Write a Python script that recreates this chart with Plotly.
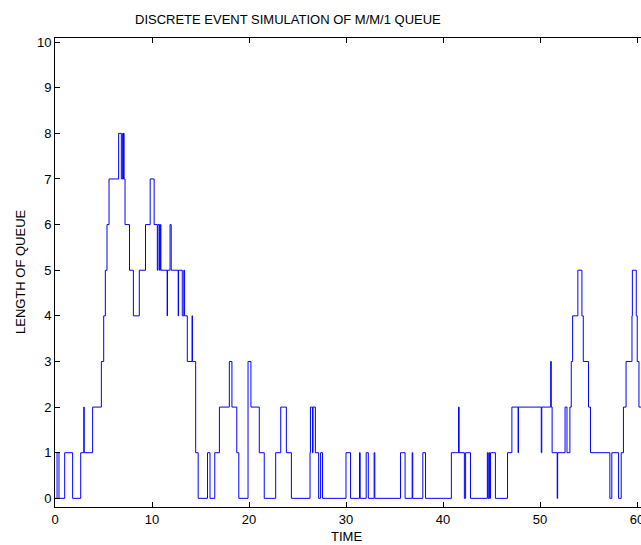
import plotly.graph_objects as go

# Event times (TIME) and queue length after each event
event_times = [
    0, 0.21, 0.41, 1.0, 1.82, 2.65, 2.97, 3.01, 3.88, 4.78, 5.02, 5.19, 5.36, 5.57,
    6.56, 6.84, 6.98, 7.03, 7.07, 7.12, 7.22, 7.68, 8.08, 8.69, 9.33, 9.81, 10.22,
    10.55, 10.62, 10.78, 10.86, 10.92, 11.56, 11.60, 11.86, 11.98, 12.70, 12.74,
    13.12, 13.28, 13.36, 13.64, 14.13, 14.17, 14.50, 14.76, 15.72, 15.98, 16.47,
    16.95, 17.97, 18.24, 18.74, 18.95, 19.90, 20.20, 21.06, 21.57, 22.75, 23.27,
    23.85, 24.37, 26.29, 26.33, 26.55, 26.60, 26.84, 27.18, 27.38, 27.58, 30.00,
    30.47, 31.39, 31.46, 32.08, 32.30, 32.90, 32.97, 35.62, 36.09, 36.82, 36.88,
    37.92, 38.20, 40.86, 41.60, 41.66, 42.20, 42.33, 42.83, 44.57, 44.64, 44.73,
    44.80, 44.90, 45.40, 46.65, 47.10, 47.74, 47.78, 50.13, 50.18, 51.10, 51.16,
    51.25, 51.77, 51.82, 52.58, 52.78, 53.08, 53.22, 53.36, 53.90, 54.32, 54.46,
    55.00, 55.20, 57.20, 57.40, 58.10, 58.37, 58.60, 58.87, 59.48, 59.52, 59.92,
    60.02, 60.20, 60.60,
]
queue_length = [
    0, 1, 0, 1, 0, 1, 2, 1, 2, 3, 4, 5, 6, 7,
    8, 7, 8, 7, 8, 7, 6, 5, 4, 5, 6, 7, 6,
    5, 6, 5, 6, 5, 4, 5, 6, 5, 4, 5,
    4, 5, 4, 3, 4, 3, 1, 0, 1, 0, 1,
    2, 3, 2, 1, 0, 3, 2, 1, 0, 1, 2,
    1, 0, 1, 2, 1, 2, 1, 0, 1, 0, 1,
    0, 1, 0, 1, 0, 1, 0, 1, 0, 1, 0,
    1, 0, 1, 2, 1, 0, 1, 0, 1, 0, 1,
    0, 1, 0, 1, 2, 1, 2, 1, 2, 3, 2,
    1, 0, 1, 2, 1, 2, 3, 4, 5, 4, 3,
    2, 1, 0, 1, 0, 1, 2, 3, 4, 5, 4,
    3, 2, 2,
]

x_ticks = [0, 10, 20, 30, 40, 50, 60]
y_ticks = [0, 1, 2, 3, 4, 5, 6, 7, 8, 9, 10]

FONT = "Liberation Sans, Arial, Helvetica, sans-serif"

fig = go.Figure()
fig.add_trace(go.Scatter(
    x=event_times, y=queue_length, mode="lines",
    line=dict(color="#0000ff", width=1, shape="hv"),
    showlegend=False, hoverinfo="skip",
))

W, H = 641, 545
ml, mr, mt, mb = 55, 0, 38, 38
fig.update_layout(
    width=W, height=H,
    margin=dict(l=ml, r=mr, t=mt, b=mb, pad=0),
    paper_bgcolor="white", plot_bgcolor="white",
    font=dict(family=FONT, size=13, color="black"),
    showlegend=False,
)
fig.update_xaxes(
    range=[0, 60.41], tickvals=x_ticks, ticktext=[str(v) for v in x_ticks],
    ticks="inside", ticklen=5, tickcolor="black", tickwidth=1,
    showline=True, linecolor="black", linewidth=1, mirror="ticks",
    showgrid=False, zeroline=False, automargin=False,
    tickfont=dict(size=13), ticklabeloverflow="allow",
)
fig.update_yaxes(
    range=[-0.19, 10.09], tickvals=y_ticks, ticktext=[str(v) for v in y_ticks],
    ticks="inside", ticklen=5, tickcolor="black", tickwidth=1,
    showline=True, linecolor="black", linewidth=1, mirror=False,
    showgrid=False, zeroline=False, automargin=False,
    tickfont=dict(size=13), ticklabeloverflow="allow",
)

pw = W - ml - mr
ph = H - mt - mb
def px_to_paper_x(px):
    return (px - ml) / pw
def py_to_paper_y(py):
    return (H - mb - py) / ph

fig.add_annotation(text="DISCRETE EVENT SIMULATION OF M/M/1 QUEUE",
                   xref="paper", yref="paper", x=px_to_paper_x(288), y=py_to_paper_y(20),
                   xanchor="center", yanchor="middle", showarrow=False,
                   font=dict(size=13))
fig.add_annotation(text="TIME",
                   xref="paper", yref="paper", x=px_to_paper_x(346), y=py_to_paper_y(536),
                   xanchor="center", yanchor="middle", showarrow=False,
                   font=dict(size=13))
fig.add_annotation(text="LENGTH OF QUEUE",
                   xref="paper", yref="paper", x=px_to_paper_x(20), y=py_to_paper_y(272),
                   xanchor="center", yanchor="middle", showarrow=False, textangle=-90,
                   font=dict(size=13))

post = ("document.documentElement.style.margin='0';"
        "document.documentElement.style.overflow='hidden';"
        "document.body.style.margin='0';document.body.style.padding='0';"
        "document.body.style.overflow='hidden';")
fig.write_html("out.html", post_script=post, config={"displayModeBar": False})
